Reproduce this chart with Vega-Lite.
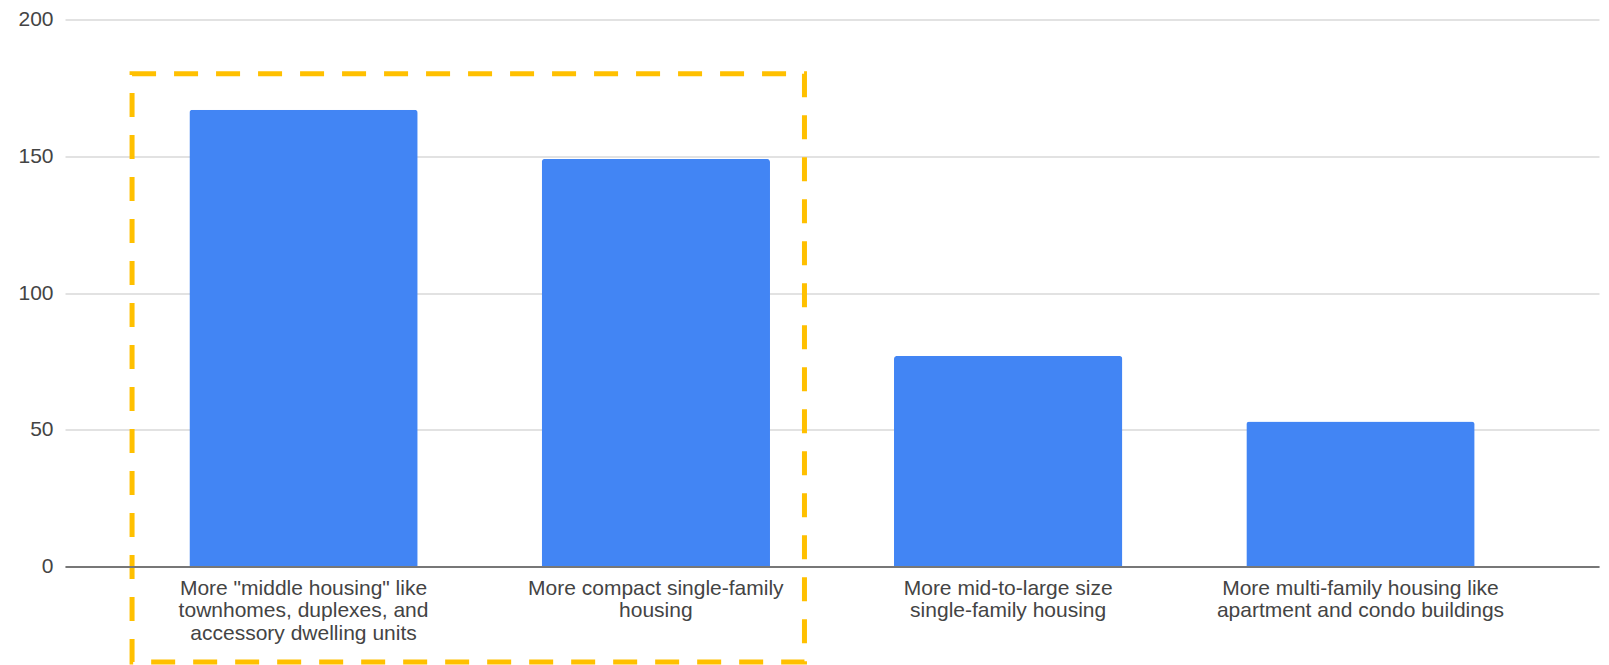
{
  "$schema": "https://vega.github.io/schema/vega-lite/v6.json",
  "width": 1534,
  "height": 547,
  "autosize": {"type": "none"},
  "padding": {"left": 65, "top": 19.5, "right": 10, "bottom": 98.5},
  "background": "white",
  "config": {
    "view": {"stroke": null},
    "font": "Liberation Sans",
    "axis": {"labelFont": "Liberation Sans", "labelColor": "#444444"}
  },
  "datasets": {
    "bars": [
      {"category": "More \"middle housing\" like\ntownhomes, duplexes, and\naccessory dwelling units", "count": 167},
      {"category": "More compact single-family\nhousing", "count": 149},
      {"category": "More mid-to-large size\nsingle-family housing", "count": 77},
      {"category": "More multi-family housing like\napartment and condo buildings", "count": 53}
    ],
    "highlight": [
      {"from": "More \"middle housing\" like\ntownhomes, duplexes, and\naccessory dwelling units", "to": "More compact single-family\nhousing", "top": 180.2, "bottom": -34.9}
    ]
  },
  "layer": [
    {
      "data": {"name": "bars"},
      "mark": {"type": "bar", "color": "#4285F4", "cornerRadiusTopLeft": 3, "cornerRadiusTopRight": 3},
      "encoding": {
        "x": {
          "field": "category", "type": "nominal", "sort": null,
          "scale": {"paddingInner": 0.352, "paddingOuter": 0.353},
          "axis": {
            "title": null, "labelAngle": 0, "labelFontSize": 21, "labelLineHeight": 22.3,
            "labelExpr": "split(datum.label, '\\n')", "labelPadding": 11, "labelLimit": 400,
            "ticks": false, "domain": true, "domainColor": "#777777", "domainWidth": 2,
            "grid": false, "zindex": 1
          }
        },
        "y": {
          "field": "count", "type": "quantitative",
          "scale": {"domain": [0, 200], "nice": false},
          "axis": {
            "title": null, "values": [0, 50, 100, 150, 200], "labelFontSize": 21,
            "labelPadding": 12, "ticks": false, "domain": false,
            "gridColor": "#d9d9d9", "gridWidth": 1.3
          }
        }
      }
    },
    {
      "data": {"name": "highlight"},
      "mark": {"type": "rect", "fill": null, "fillOpacity": 0, "stroke": "#FFC000", "strokeWidth": 5, "strokeDash": [24, 18], "clip": false},
      "encoding": {
        "x": {"field": "from", "type": "nominal", "bandPosition": -0.251},
        "x2": {"field": "to", "bandPosition": 1.151},
        "y": {"field": "top", "type": "quantitative"},
        "y2": {"field": "bottom"}
      }
    }
  ]
}
